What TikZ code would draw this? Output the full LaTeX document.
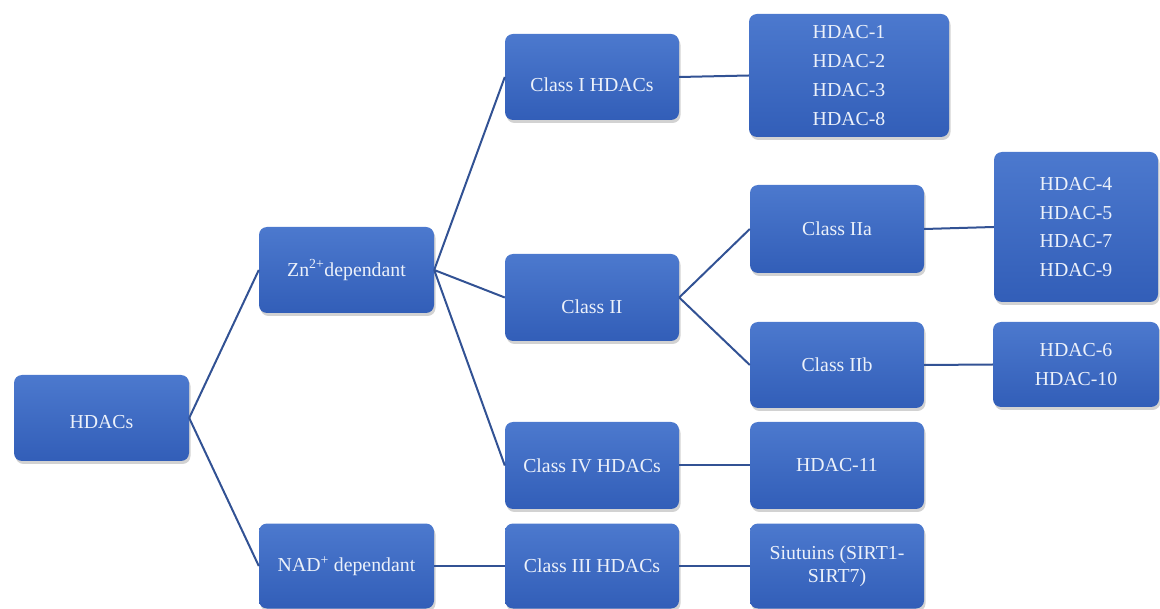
\documentclass[tikz,border=0pt]{standalone}
\usepackage{fontspec}
\setmainfont{Liberation Serif}
\newfontfamily\boxfont{Liberation Serif}
\usepackage{tikz}
\usetikzlibrary{shadows}
\definecolor{boxtop}{RGB}{76,121,206}
\definecolor{boxbot}{RGB}{50,94,184}
\definecolor{boxtext}{RGB}{236,241,250}
\definecolor{linkcol}{RGB}{50,82,148}

\begin{document}
\begin{tikzpicture}[x=1pt,y=-1pt,
    hbox/.style={rectangle,rounded corners=8pt,top color=boxtop,bottom color=boxbot,
        draw=none,text=boxtext,align=center,inner sep=2pt,
        font=\boxfont\fontsize{19.8}{28.8}\selectfont,
        drop shadow={shadow xshift=1.5pt,shadow yshift=-3pt,opacity=0.25,fill=black!70}},
    textdown/.style={text height=#1,text depth=0pt},
    link/.style={draw=linkcol,line width=2pt}]
            \useasboundingbox (0,0) rectangle (1160,609);
            \node (hdacs) at (101.5,418) [hbox,textdown=22pt,minimum width=175pt,minimum height=86pt] {HDACs};
            \node (zn) at (346.5,270) [hbox,minimum width=175pt,minimum height=86pt] {Zn\textsuperscript{2+}dependant};
            \node (nad) at (346.5,566) [hbox,minimum width=175pt,minimum height=85pt] {NAD\textsuperscript{+} dependant};
            \node (classI) at (592,77) [hbox,textdown=30pt,minimum width=174pt,minimum height=86pt] {Class I HDACs};
            \node (classII) at (592,297.5) [hbox,textdown=33pt,minimum width=174pt,minimum height=87pt] {Class II};
            \node (classIV) at (592,465.5) [hbox,minimum width=174pt,minimum height=87pt] {Class IV HDACs};
            \node (classIII) at (592,566) [hbox,minimum width=174pt,minimum height=85pt] {Class III HDACs};
            \node (hdacI) at (849,75.5) [hbox,minimum width=200pt,minimum height=123pt] {HDAC-1\\HDAC-2\\HDAC-3\\HDAC-8};
            \node (classIIa) at (837,229) [hbox,minimum width=174pt,minimum height=88pt] {Class IIa};
            \node (classIIb) at (837,365) [hbox,minimum width=174pt,minimum height=86pt] {Class IIb};
            \node (hdacIV) at (837,465.5) [hbox,minimum width=174pt,minimum height=87pt] {HDAC-11};
            \node (sirt) at (837,566) [hbox,font=\boxfont\fontsize{19.8}{23}\selectfont,minimum width=174pt,minimum height=85pt] {Siutuins (SIRT1-\\SIRT7)};
            \node (hdacIIa) at (1076,227) [hbox,minimum width=164pt,minimum height=150pt] {HDAC-4\\HDAC-5\\HDAC-7\\HDAC-9};
            \node (hdacIIb) at (1076,364.5) [hbox,minimum width=166pt,minimum height=85pt] {HDAC-6\\HDAC-10};
            \draw[link] (hdacs.east) -- (zn.west) (hdacs.east) -- (nad.west);
            \draw[link] (zn.east) -- (classI.west) (zn.east) -- (classII.west) (zn.east) -- (classIV.west);
            \draw[link] (nad.east) -- (classIII.west);
            \draw[link] (classI.east) -- (hdacI.west);
            \draw[link] (classII.east) -- (classIIa.west) (classII.east) -- (classIIb.west);
            \draw[link] (classIIa.east) -- (hdacIIa.west) (classIIb.east) -- (hdacIIb.west);
            \draw[link] (classIV.east) -- (hdacIV.west) (classIII.east) -- (sirt.west);
        \end{tikzpicture}
\end{document}
